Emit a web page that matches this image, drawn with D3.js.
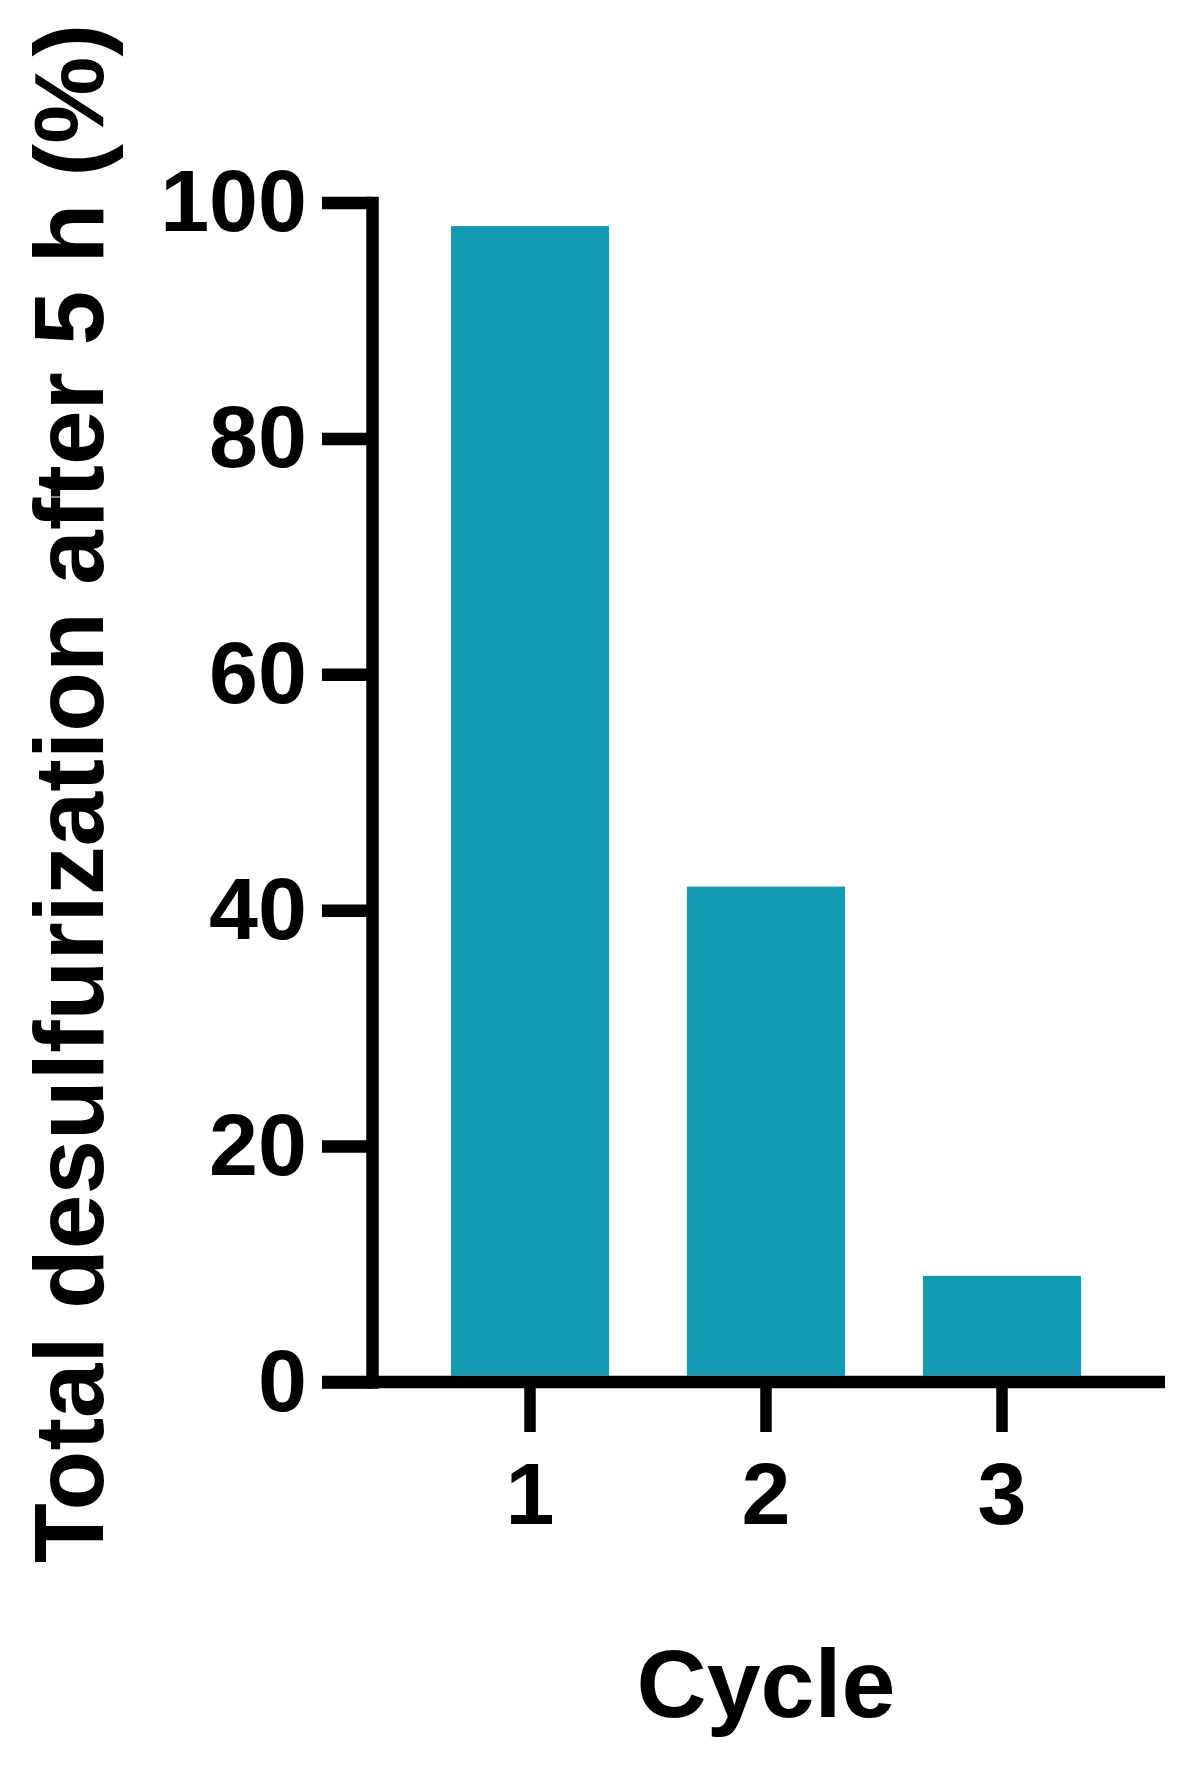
<!DOCTYPE html>
<html>
<head>
<meta charset="utf-8">
<script src="https://cdn.jsdelivr.net/npm/d3@7"></script>
<style>
  html, body { margin: 0; padding: 0; background: #ffffff; }
  svg { display: block; }
  text { font-family: "Liberation Sans", Arial, Helvetica, sans-serif; font-weight: bold; fill: #000; }
</style>
</head>
<body>
<div id="chart"></div>
<script>
// ---- data ----
const categories = ["1", "2", "3"];
const values = [98, 42, 9];
const yTicks = [0, 20, 40, 60, 80, 100];
const xTitle = "Cycle";
const yTitle = "Total desulfurization after 5 h (%)";

// ---- layout ----
const W = 1187, H = 1768;
const axisX = 372;          // y-axis position
const y0 = 1382, y100 = 202.5;
const barColor = "#129ab3";
const axisW = 12.5;
const tickLen = 50;

const svg = d3.select("#chart").append("svg")
  .attr("width", W).attr("height", H);

const x = d3.scaleBand()
  .domain(categories)
  .range([412, 1120])
  .paddingInner(0.33)
  .paddingOuter(0.165);

const y = d3.scaleLinear().domain([0, 100]).range([y0, y100]);

// bars
svg.append("g").selectAll("rect")
  .data(categories)
  .join("rect")
  .attr("x", d => x(d))
  .attr("width", x.bandwidth())
  .attr("y", (d, i) => y(values[i]))
  .attr("height", (d, i) => y(0) - y(values[i]) - axisW / 2)
  .attr("fill", barColor);

// x-axis baseline
svg.append("line")
  .attr("x1", axisX - tickLen)
  .attr("x2", x.range()[1] + 45)
  .attr("y1", y(0)).attr("y2", y(0))
  .attr("stroke", "#000")
  .attr("stroke-width", axisW);

// y axis
const yAxis = svg.append("g")
  .attr("transform", `translate(${axisX},0)`)
  .call(d3.axisLeft(y).tickValues(yTicks).tickSize(tickLen).tickSizeOuter(0).tickPadding(15));
yAxis.select(".domain")
  .attr("stroke", "#000")
  .attr("stroke-width", axisW)
  .attr("stroke-linecap", "square");
yAxis.selectAll(".tick line")
  .attr("stroke", "#000")
  .attr("stroke-width", axisW);
yAxis.selectAll(".tick text")
  .attr("font-size", 88)
  .attr("font-family", "Liberation Sans, Arial, sans-serif")
  .attr("font-weight", "bold")
  .attr("fill", "#000");

// x axis ticks
const xAxis = svg.append("g")
  .attr("transform", `translate(0,${y0})`)
  .call(d3.axisBottom(x).tickSize(tickLen).tickSizeOuter(0).tickPadding(30));
xAxis.select(".domain").remove();
xAxis.selectAll(".tick line")
  .attr("stroke", "#000")
  .attr("stroke-width", 11.5);
xAxis.selectAll(".tick text")
  .attr("font-size", 88)
  .attr("font-family", "Liberation Sans, Arial, sans-serif")
  .attr("font-weight", "bold")
  .attr("fill", "#000");

// axis titles
svg.append("text")
  .attr("x", (x.range()[0] + x.range()[1]) / 2)
  .attr("y", 1717)
  .attr("text-anchor", "middle")
  .attr("font-size", 97)
  .text(xTitle);

svg.append("text")
  .attr("transform", "rotate(-90)")
  .attr("x", -793.5)
  .attr("y", 103)
  .attr("text-anchor", "middle")
  .attr("font-size", 98)
  .text(yTitle);
</script>
</body>
</html>
